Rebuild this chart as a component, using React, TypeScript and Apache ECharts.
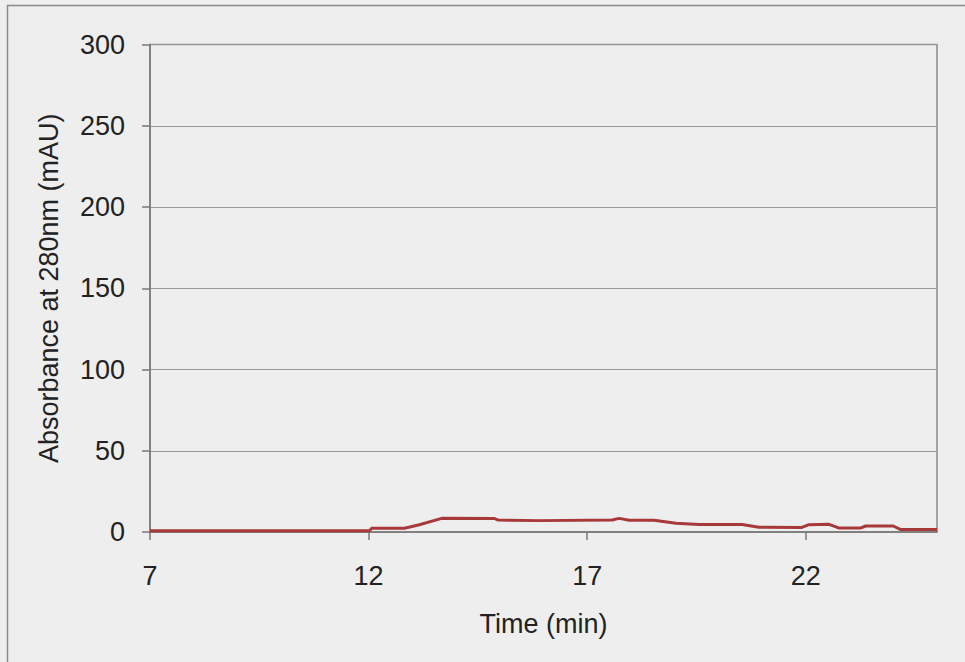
import React, { useEffect, useRef } from "react";
import * as echarts from "echarts";

// Elution profile: time (min) vs absorbance at 280 nm (mAU)
const timeMin = [
  7.0, 12.02, 12.07, 12.82, 13.16, 13.67, 14.88, 14.95, 15.9, 17.57, 17.73, 17.96,
  18.53, 19.03, 19.56, 20.54, 20.93, 21.91, 22.07, 22.53, 22.75, 23.26, 23.37, 24.0,
  24.17, 25.0,
];
const absorbance = [
  0.8, 0.8, 2.3, 2.3, 4.5, 8.4, 8.3, 7.4, 7.0, 7.4, 8.4, 7.2,
  7.2, 5.4, 4.6, 4.6, 2.9, 2.8, 4.5, 4.7, 2.5, 2.5, 3.7, 3.7,
  1.5, 1.5,
];
const xTicks = [7, 12, 17, 22];

const FONT = "'Liberation Sans', Arial, sans-serif";

export default function App() {
  const ref = useRef<HTMLDivElement>(null);

  useEffect(() => {
    if (!ref.current) return;
    const chart = echarts.init(ref.current, null, { renderer: "svg" });
    const points = timeMin.map((t, i) => [t, absorbance[i]]);
    chart.setOption({
      animation: false,
      backgroundColor: "#eeeeee",
      textStyle: { fontFamily: FONT },
      graphic: [
        {
          type: "rect",
          shape: { x: 7.5, y: 5.5, width: 1000, height: 700 },
          style: { fill: "none", stroke: "#8a8a8a", lineWidth: 1.5 },
          silent: true,
        },
      ],
      grid: {
        left: 150,
        right: 28,
        top: 44.5,
        bottom: 130,
        show: true,
        borderColor: "#8a8a8a",
        borderWidth: 1.5,
        backgroundColor: "transparent",
      },
      xAxis: {
        type: "value",
        min: 7,
        max: 25,
        name: "Time (min)",
        nameLocation: "middle",
        nameGap: 78,
        nameTextStyle: { fontSize: 27, color: "#222", fontFamily: FONT },
        axisLine: { show: true, onZero: false, lineStyle: { color: "#777", width: 1.5 } },
        axisTick: {
          show: true,
          length: 8,
          customValues: xTicks,
          lineStyle: { color: "#777", width: 1.5 },
        },
        axisLabel: {
          customValues: xTicks,
          fontSize: 27,
          color: "#222",
          margin: 30,
          fontFamily: FONT,
        },
        splitLine: { show: false },
      },
      yAxis: {
        type: "value",
        min: 0,
        max: 300,
        interval: 50,
        name: "Absorbance at 280nm (mAU)",
        nameLocation: "middle",
        nameGap: 88,
        nameTextStyle: { fontSize: 27, color: "#222", fontFamily: FONT },
        axisLine: { show: true, lineStyle: { color: "#777", width: 1.5 } },
        axisTick: { show: true, length: 8, lineStyle: { color: "#777", width: 1.5 } },
        axisLabel: { fontSize: 27, color: "#222", margin: 25, fontFamily: FONT },
        splitLine: { show: true, lineStyle: { color: "#999", width: 1.2 } },
      },
      series: [
        {
          type: "line",
          data: points,
          showSymbol: false,
          lineStyle: { color: "#a8393b", width: 3 },
        },
      ],
    });
    return () => chart.dispose();
  }, []);

  return (
    <div
      ref={ref}
      style={{ position: "absolute", left: 0, top: 0, width: 965, height: 662 }}
    />
  );
}
